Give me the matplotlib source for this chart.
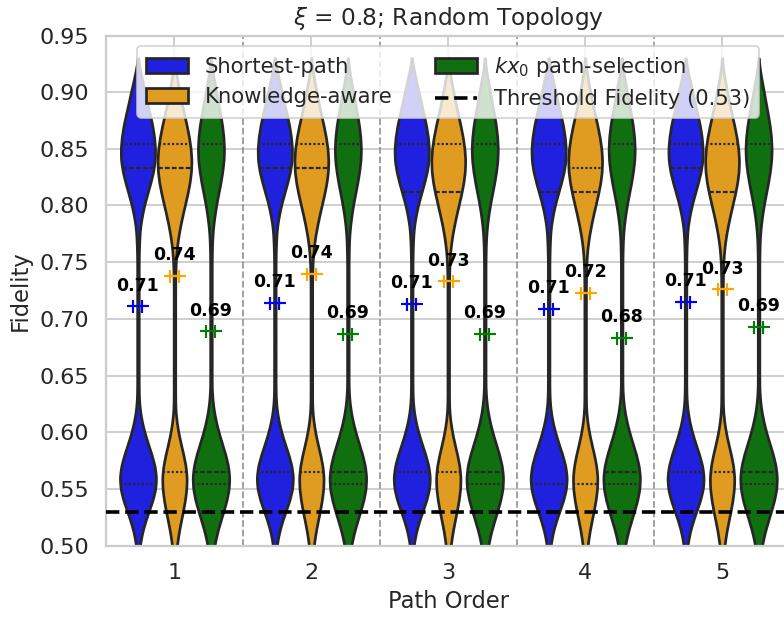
import numpy as np
import matplotlib
matplotlib.use("Agg")
import matplotlib.pyplot as plt
import seaborn as sns
from matplotlib.patches import Patch
from matplotlib.lines import Line2D

# categories
path_orders = ["1", "2", "3", "4", "5"]
methods = ["Shortest-path", "Knowledge-aware", "$kx_0$ path-selection"]
threshold = 0.53

# fidelity levels and how many samples sit at each level (shape is shared by all path orders)
fid_levels = [0.49, 0.50, 0.51, 0.52, 0.53, 0.54, 0.55, 0.56, 0.57, 0.58, 0.59,
              0.60, 0.61, 0.62, 0.63, 0.64, 0.65, 0.66, 0.67, 0.68, 0.69, 0.70,
              0.71, 0.72, 0.73, 0.74, 0.75, 0.76, 0.77, 0.78, 0.79, 0.80, 0.81,
              0.82, 0.83, 0.84, 0.85, 0.86, 0.87, 0.88, 0.89, 0.90, 0.91, 0.92]
counts_shortest = [1.0, 1.9, 3.9, 7.0, 11.0, 15.1, 18.0, 18.8, 17.3, 14.1, 10.2,
                   6.6, 3.8, 1.9, 1.0, 0.8, 0.8, 0.8, 0.8, 0.8, 0.8, 0.8,
                   0.8, 0.8, 0.8, 0.8, 0.8, 1.0, 1.4, 2.1, 3.9, 6.3, 9.5,
                   12.8, 15.7, 17.5, 17.7, 16.7, 14.9, 12.4, 9.7, 7.2, 4.5, 2.0]
counts_knowledge = [1.5, 2.5, 4.1, 6.3, 8.7, 10.8, 12.3, 12.7, 11.5, 9.2, 6.4,
                    3.9, 2.1, 1.0, 0.8, 0.8, 0.8, 0.8, 0.8, 0.8, 0.8, 0.8,
                    0.8, 0.8, 0.8, 1.0, 1.3, 2.1, 3.5, 5.5, 7.9, 10.6, 13.3,
                    15.6, 17.1, 17.5, 16.7, 15.0, 12.7, 10.1, 7.5, 5.3, 3.0, 1.2]
counts_kx0 = [2.0, 3.5, 5.9, 9.2, 12.8, 16.1, 18.4, 19.0, 17.7, 14.9, 11.3,
              7.8, 4.9, 2.7, 1.4, 0.8, 0.8, 0.8, 0.8, 0.8, 0.8, 0.8,
              0.8, 0.8, 0.8, 0.8, 0.8, 1.0, 1.3, 2.1, 3.5, 5.3, 7.5,
              9.8, 11.7, 13.1, 13.5, 12.9, 11.6, 9.7, 7.5, 5.5, 3.3, 1.3]

# quartiles per path order
q1_shortest = [0.554, 0.565, 0.565, 0.554, 0.565]
med_shortest = [0.833, 0.833, 0.812, 0.812, 0.833]
q3_shortest = [0.854, 0.854, 0.854, 0.854, 0.854]
q1_knowledge = [0.565, 0.565, 0.565, 0.554, 0.565]
med_knowledge = [0.833, 0.833, 0.812, 0.812, 0.812]
q3_knowledge = [0.854, 0.854, 0.854, 0.833, 0.854]
q1_kx0 = [0.554, 0.554, 0.554, 0.554, 0.554]
med_kx0 = [0.565, 0.565, 0.565, 0.565, 0.565]
q3_kx0 = [0.854, 0.854, 0.854, 0.854, 0.854]

# mean fidelity per path order
mean_shortest = [0.711, 0.714, 0.713, 0.709, 0.715]
mean_knowledge = [0.738, 0.740, 0.733, 0.723, 0.726]
mean_kx0 = [0.689, 0.687, 0.687, 0.683, 0.693]

y_ticks = [0.50, 0.55, 0.60, 0.65, 0.70, 0.75, 0.80, 0.85, 0.90, 0.95]

sns.set_theme(style="whitegrid")
plt.rcParams.update({"xtick.labelsize": 12.3, "ytick.labelsize": 12.3,
                     "axes.labelsize": 12.5, "axes.titlesize": 12.9,
                     "legend.fontsize": 11.7})

fill_colors = ["#2020df", "#df9c20", "#107010"]
mark_colors = ["blue", "orange", "green"]
edge_gray = "#262626"

all_counts = [counts_shortest, counts_knowledge, counts_kx0]
all_q1 = [q1_shortest, q1_knowledge, q1_kx0]
all_med = [med_shortest, med_knowledge, med_kx0]
all_q3 = [q3_shortest, q3_knowledge, q3_kx0]
all_means = [mean_shortest, mean_knowledge, mean_kx0]

# smooth density of each method
grid = np.linspace(0.49, 0.93, 500)
bw = 0.006
levels = np.array(fid_levels)
dens = []
for c in all_counts:
    w = np.array(c)
    d = (w[None, :] * np.exp(-(grid[:, None] - levels[None, :]) ** 2 / (2 * bw ** 2))).sum(axis=1)
    dens.append(d)
dmax = max(d.max() for d in dens)
half_max = 0.8 / 3 / 2
widths = [d / dmax * half_max for d in dens]

fig = plt.figure(figsize=(784 / 130, 619 / 130), dpi=130)
ax = fig.add_axes([106 / 784, 1 - 545.5 / 619, 684.5 / 784, 510 / 619])

offsets = [-0.8 / 3, 0.0, 0.8 / 3]
for j in range(len(path_orders)):
    for k in range(len(methods)):
        xc = j + offsets[k]
        w = widths[k]
        ax.fill_betweenx(grid, xc - w, xc + w, facecolor=fill_colors[k],
                         edgecolor=edge_gray, linewidth=1.5, zorder=2)
        for q, dash in [(all_q1[k][j], (1.0, 1.0)), (all_med[k][j], (2.2, 1.0)),
                        (all_q3[k][j], (1.0, 1.0))]:
            hw = np.interp(q, grid, w)
            ax.plot([xc - hw, xc + hw], [q, q], color=edge_gray, lw=1.2,
                    dashes=dash, zorder=3)
        m = all_means[k][j]
        ax.plot([xc - 0.033, xc + 0.033], [m, m], ls="none", marker="+", ms=7.2,
                mew=1.2, color=mark_colors[k], zorder=4)
        ax.annotate(f"{m:.2f}", (xc, m), xytext=(0, 11.5), textcoords="offset points",
                    ha="center", va="center", fontsize=9.6, fontweight="bold",
                    color="black", zorder=5)

for b in np.arange(len(path_orders)) + 0.5:
    ax.axvline(b, color="gray", ls="--", lw=1, alpha=0.8, zorder=1)
ax.axhline(threshold, color="black", ls="--", lw=2, zorder=3)

ax.set_xlim(-0.5, len(path_orders) - 0.5)
ax.set_ylim(0.50, 0.95)
ax.set_xticks(range(len(path_orders)))
ax.set_xticklabels(path_orders)
ax.set_yticks(y_ticks)
ax.set_yticklabels([f"{t:.2f}" for t in y_ticks])
ax.set_xlabel("Path Order")
ax.set_ylabel("Fidelity")
ax.set_title(r"$\xi$ = 0.8; Random Topology")

handles = [Patch(facecolor=fill_colors[k], edgecolor=edge_gray, linewidth=1.5)
           for k in range(len(methods))]
handles.append(Line2D([0], [0], color="black", ls="--", lw=2))
labels = methods + [f"Threshold Fidelity ({threshold})"]
ax.legend(handles, labels, loc="upper center", ncol=2)

fig.savefig("out.png", dpi=130)
